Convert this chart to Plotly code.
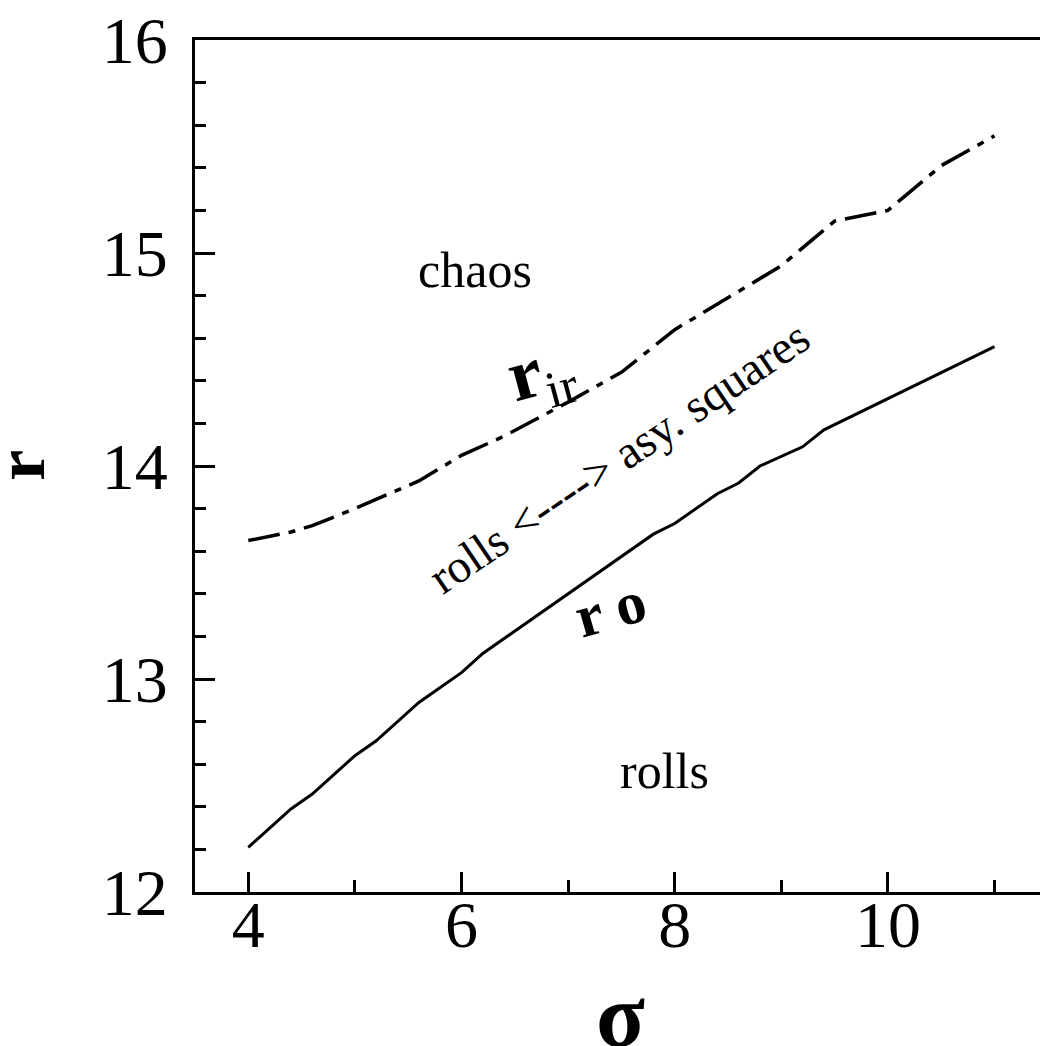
import plotly.graph_objects as go

# r_o (onset) boundary, solid line
sigma_o = [4.0, 4.4, 4.6, 5.0, 5.2, 5.6, 6.0, 6.2, 7.8, 8.0, 8.4, 8.6, 8.8, 9.2, 9.4, 11.0]
r_o = [12.21, 12.39, 12.46, 12.64, 12.71, 12.89, 13.03, 13.12, 13.68, 13.73, 13.87, 13.92, 14.0, 14.09, 14.17, 14.56]

# r_ir boundary, dash-dot line
sigma_ir = [4.0, 4.4, 4.6, 5.0, 5.6, 6.0, 6.4, 7.0, 7.5, 8.0, 9.0, 9.5, 10.0, 10.5, 11.0]
r_ir = [13.65, 13.69, 13.72, 13.80, 13.93, 14.05, 14.14, 14.30, 14.44, 14.64, 14.94, 15.15, 15.20, 15.41, 15.55]

x_ticks = [4, 6, 8, 10]
y_ticks = [12, 13, 14, 15, 16]

FONT = "Liberation Serif"

fig = go.Figure()
fig.add_trace(go.Scatter(x=sigma_o, y=r_o, mode="lines",
                         line=dict(color="black", width=3), showlegend=False))
fig.add_trace(go.Scatter(x=sigma_ir, y=r_ir, mode="lines",
                         line=dict(color="black", width=3.5, dash="32px,9px,7px,9px"),
                         showlegend=False))

ann = [
    dict(x=6.13, y=14.92, text="chaos", font=dict(size=50)),
    dict(x=7.90, y=12.57, text="rolls", font=dict(size=50)),
    dict(x=6.75, y=14.43, text="<b>r</b><sub>ir</sub>", font=dict(size=74), textangle=-15),
    dict(x=7.40, y=13.33, text="<b>r o</b>", font=dict(size=60), textangle=-16),
    dict(x=7.48, y=14.04, text="rolls &lt;----&gt; asy. squares", font=dict(size=47), textangle=-34),
]
for a in ann:
    a.update(xref="x", yref="y", showarrow=False)
    a["font"].update(family=FONT, color="black")
    fig.add_annotation(**a)

# axis titles
fig.add_annotation(x=-0.2065, y=0.501, xref="paper", yref="paper", text="<b>r</b>",
                   textangle=-90, showarrow=False, xanchor="center", yanchor="middle",
                   font=dict(family=FONT, size=70, color="black"))
fig.add_annotation(x=0.503, y=-0.1455, xref="paper", yref="paper", text="<b>σ</b>",
                   showarrow=False, xanchor="center", yanchor="middle",
                   font=dict(family=FONT, size=90, color="black"))

fig.update_xaxes(range=[3.5, 11.427], tickvals=x_ticks, ticks="inside", ticklen=20,
                 tickwidth=2.5, tickcolor="black", showline=True, linewidth=3,
                 linecolor="black", mirror=True, showgrid=False, zeroline=False,
                 tickfont=dict(family=FONT, size=66, color="black"),
                 ticklabelstandoff=-27,
                 minor=dict(dtick=1, tick0=4, ticks="inside", ticklen=12, tickwidth=2.5,
                            tickcolor="black", showgrid=False))
fig.update_yaxes(range=[12, 16], tickvals=y_ticks, ticks="inside", ticklen=20,
                 tickwidth=2.5, tickcolor="black", showline=True, linewidth=3,
                 linecolor="black", mirror=False, showgrid=False, zeroline=False,
                 tickfont=dict(family=FONT, size=66, color="black"),
                 ticklabelstandoff=11,
                 minor=dict(dtick=0.2, tick0=12, ticks="inside", ticklen=11, tickwidth=2.5,
                            tickcolor="black", showgrid=False))

fig.update_layout(width=1040, height=1046, margin=dict(l=195, r=0, t=40, b=154),
                  plot_bgcolor="white", paper_bgcolor="white")

fig.write_html("out.html", config={"displayModeBar": False},
               post_script="document.body.style.margin='0';document.body.style.overflow='hidden';")
